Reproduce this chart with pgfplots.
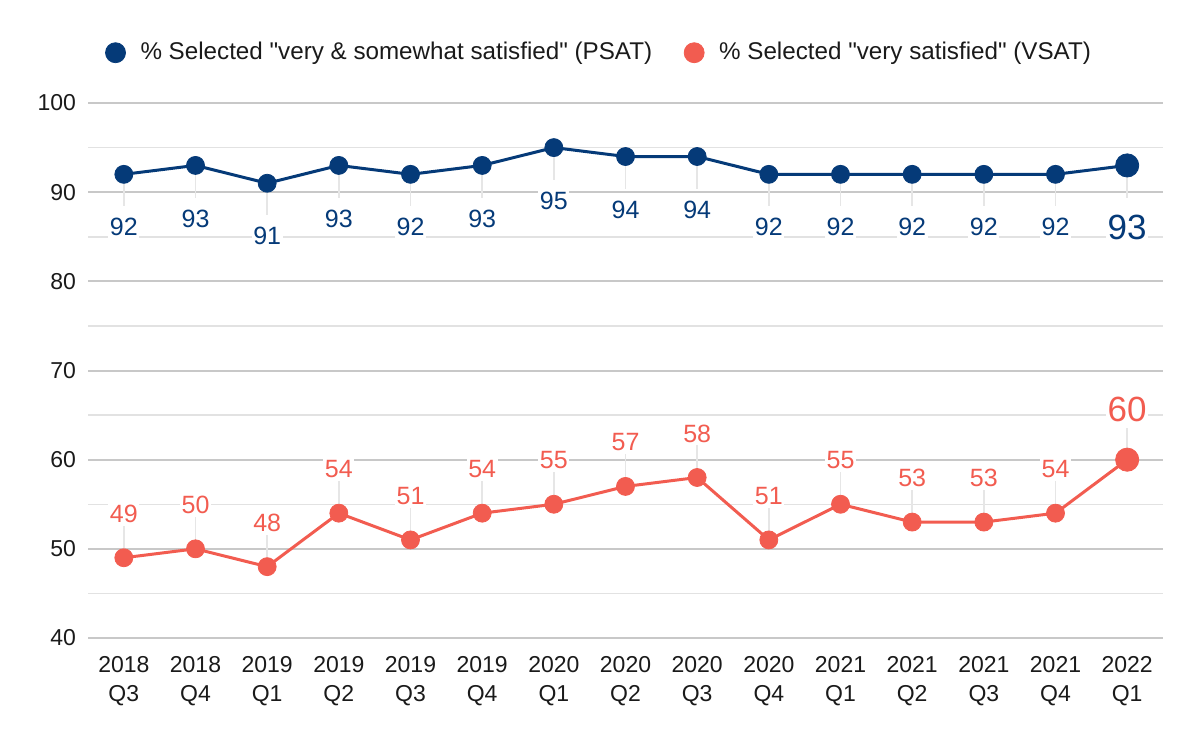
\documentclass[border=0pt]{standalone}
\usepackage{pgfplots}
\pgfplotsset{compat=1.18}
\usepackage{fontspec}
\setmainfont{Liberation Sans}
\definecolor{navy}{HTML}{053A78}
\definecolor{coral}{HTML}{F25C50}
\definecolor{majgrid}{HTML}{C8C8C8}
\definecolor{mingrid}{HTML}{E2E2E2}
\definecolor{leader}{HTML}{E6E6E6}
\definecolor{txt}{HTML}{1A1A1A}
\begin{document}
\begin{tikzpicture}
\useasboundingbox (0,0) rectangle (600bp,371bp);
\begin{axis}[
  at={(44bp,52bp)}, anchor=south west,
  width=537.5bp, height=267.5bp, scale only axis,
  xmin=-0.5, xmax=14.5, ymin=40, ymax=100,
  xtick={0,...,14},
  xticklabels={{2018\\Q3},{2018\\Q4},{2019\\Q1},{2019\\Q2},{2019\\Q3},{2019\\Q4},{2020\\Q1},{2020\\Q2},{2020\\Q3},{2020\\Q4},{2021\\Q1},{2021\\Q2},{2021\\Q3},{2021\\Q4},{2022\\Q1}},
  xticklabel style={align=center, font=\fontsize{11.5bp}{14.5bp}\selectfont, text=txt, yshift=-5.5bp},
  ytick={40,50,...,100},
  minor ytick={45,55,...,95},
  yticklabel style={font=\fontsize{11.5bp}{13.5bp}\selectfont, text=txt, xshift=-2.5bp},
  ymajorgrids, yminorgrids,
  major grid style={majgrid, line width=1bp},
  minor grid style={mingrid, line width=0.75bp},
  axis line style={draw=none},
  major tick length=0pt, minor tick length=0pt,
  /pgf/number format/assume math mode=true,
  clip=false,
  legend columns=2,
  legend cell align=left,
  legend style={at={(axis description cs:0.4765,1.094)}, anchor=center, draw=none, fill=none,
    font=\fontsize{12.1bp}{14bp}\selectfont, text=txt,
    /tikz/every odd column/.append style={column sep=5.5bp},
    /tikz/every even column/.append style={column sep=14bp}},
]
\addlegendimage{only marks, mark=*, mark size=5bp, color=navy}
\addlegendentry{\% Selected \textquotedbl very \& somewhat satisfied\textquotedbl\ (PSAT)}
\addlegendimage{only marks, mark=*, mark size=5bp, color=coral}
\addlegendentry{\% Selected \textquotedbl very satisfied\textquotedbl\ (VSAT)}

% leader lines
\addplot[forget plot, only marks, mark=none, error bars/.cd, y dir=minus, y fixed=3.6,
  error mark=none, error bar style={draw=leader, line width=0.8bp}] table {
x y
0 92
1 93
2 91
3 93
4 92
5 93
6 95
7 94
8 94
9 92
10 92
11 92
12 92
13 92
14 93
};
\addplot[forget plot, only marks, mark=none, error bars/.cd, y dir=plus, y fixed=3.6,
  error mark=none, error bar style={draw=leader, line width=0.8bp}] table {
x y
0 49
1 50
2 48
3 54
4 51
5 54
6 55
7 57
8 58
9 51
10 55
11 53
12 53
13 54
14 60
};

% PSAT
\addplot[forget plot, navy, line width=1.5bp, mark=none] table {
x y
0 92
1 93
2 91
3 93
4 92
5 93
6 95
7 94
8 94
9 92
10 92
11 92
12 92
13 92
14 93
};
\addplot[forget plot, only marks, mark=*, mark size=4.5bp, navy,
  nodes near coords,
  every node near coord/.append style={anchor=center, yshift=-26.5bp, text=navy, fill=white, inner sep=0.8bp,
    font=\fontsize{12.5bp}{14bp}\selectfont}] table {
x y
0 92
1 93
2 91
3 93
4 92
5 93
6 95
7 94
8 94
9 92
10 92
11 92
12 92
13 92
};
\addplot[forget plot, only marks, mark=*, mark size=5.8bp, navy,
  nodes near coords,
  every node near coord/.append style={anchor=center, yshift=-31bp, text=navy, fill=white, inner sep=0.8bp,
    font=\fontsize{17.5bp}{20bp}\selectfont}] table {
x y
14 93
};

% VSAT
\addplot[forget plot, coral, line width=1.5bp, mark=none] table {
x y
0 49
1 50
2 48
3 54
4 51
5 54
6 55
7 57
8 58
9 51
10 55
11 53
12 53
13 54
14 60
};
\addplot[forget plot, only marks, mark=*, mark size=4.5bp, coral,
  nodes near coords,
  every node near coord/.append style={anchor=center, yshift=22bp, text=coral, fill=white, inner sep=0.8bp,
    font=\fontsize{12.5bp}{14bp}\selectfont}] table {
x y
0 49
1 50
2 48
3 54
4 51
5 54
6 55
7 57
8 58
9 51
10 55
11 53
12 53
13 54
};
\addplot[forget plot, only marks, mark=*, mark size=5.8bp, coral,
  nodes near coords,
  every node near coord/.append style={anchor=center, yshift=25bp, text=coral, fill=white, inner sep=0.8bp,
    font=\fontsize{17.5bp}{20bp}\selectfont}] table {
x y
14 60
};
\end{axis}
\end{tikzpicture}
\end{document}
